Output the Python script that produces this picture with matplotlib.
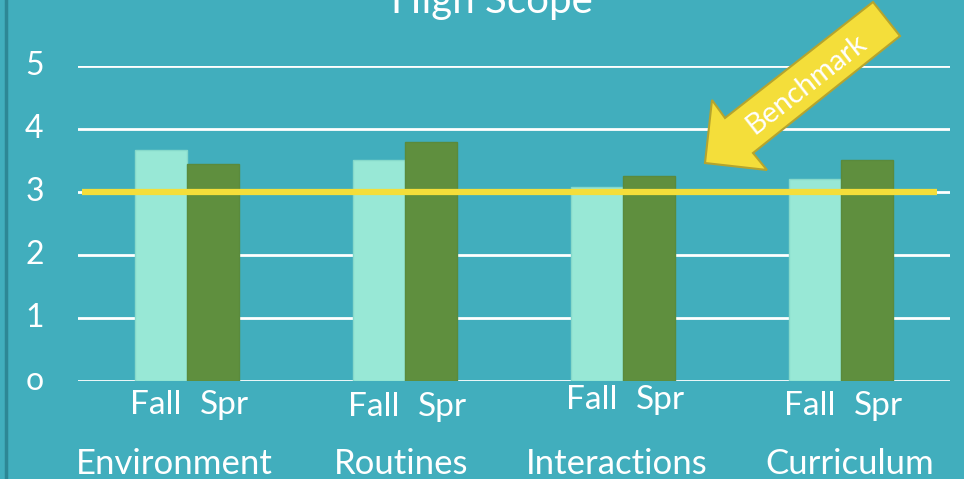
import numpy as np
import matplotlib.pyplot as plt
from matplotlib.patches import Polygon

categories = ['Environment', 'Routines', 'Interactions', 'Curriculum']
fall = [3.67, 3.51, 3.08, 3.21]
spring = [3.44, 3.79, 3.25, 3.51]
series_labels = ['Fall', 'Spr']
benchmark = 3
yticks = [0, 1, 2, 3, 4, 5]

bg = '#41aebd'
c_fall = '#98e8d6'
c_spr = '#5f8f3e'
c_yel = '#f4de3a'

plt.rcParams['font.family'] = ['Lato', 'DejaVu Sans']

fig = plt.figure(figsize=(9.64, 4.79), dpi=100)
fig.patch.set_facecolor(bg)
ax = fig.add_axes([78 / 964, 98 / 479, 872 / 964, 315 / 479])
ax.set_facecolor(bg)

x = np.arange(len(categories))
w = 0.24
ax.bar(x - w / 2, fall, w, color=c_fall, edgecolor='#86d9cb', linewidth=1, zorder=2)
ax.bar(x + w / 2, spring, w, color=c_spr, edgecolor='#5a8a3c', linewidth=1, zorder=2)

for yv in yticks:
    ax.axhline(yv, color='white', lw=2, zorder=1)

ax.plot([-0.48, 3.44], [benchmark, benchmark], color=c_yel, lw=4.5, zorder=3,
        solid_capstyle='butt')

ax.set_xlim(-0.5, 3.5)
ax.set_ylim(0, 5)
ax.set_xticks([])
ax.set_yticks([])
for s in ax.spines.values():
    s.set_visible(False)

# y tick labels
for yv in yticks:
    ax.text(-0.7, yv, str(yv) if yv else 'o', color='white', fontsize=23,
            ha='center', va='center', clip_on=False)

# Fall / Spr labels and category labels (text-box placement as on the slide)
lab_y = [-0.38, -0.42, -0.30, -0.40]
cat_dx = [-0.06, -0.02, -0.03, 0.04]
for i, cat in enumerate(categories):
    ax.text(i - 0.145, lab_y[i], series_labels[0], color='white', fontsize=24,
            ha='center', va='center', clip_on=False)
    ax.text(i + 0.17, lab_y[i], series_labels[1], color='white', fontsize=24,
            ha='center', va='center', clip_on=False)
    ax.text(i + cat_dx[i], -1.31, cat, color='white', fontsize=25,
            ha='center', va='center', clip_on=False)

# title, cut off at the top
fig.text(492 / 964, 1 - 2 / 479, 'High Scope', color='white', fontsize=29,
         ha='center', va='center')

# benchmark arrow (figure pixel coords, y from top)
pts = [(705, 163), (712, 100), (725, 118), (873, 2), (900, 36),
       (753, 153), (767, 170)]
arrow = Polygon([(px / 964, 1 - py / 479) for px, py in pts], closed=True,
                transform=fig.transFigure, facecolor=c_yel,
                edgecolor='#b5a42e', lw=1.5, zorder=5)
fig.patches.append(arrow)
fig.text(806 / 964, 1 - 84 / 479, 'Benchmark', color='white', fontsize=21,
         rotation=38, ha='center', va='center', rotation_mode='anchor', zorder=6)

# left border
fig.add_artist(plt.Line2D([6 / 964, 6 / 964], [0, 1], color='#2d8795', lw=2.5,
                          transform=fig.transFigure))

fig.savefig('out.png', dpi=100, facecolor=bg)
